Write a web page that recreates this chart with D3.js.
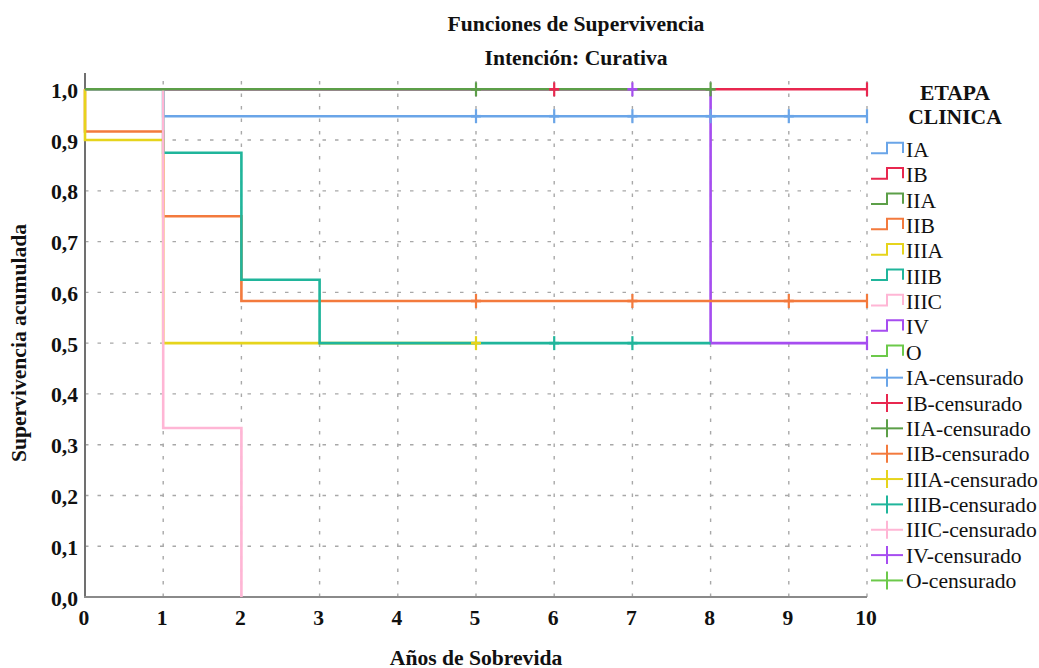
<!DOCTYPE html>
<html>
<head>
<meta charset="utf-8">
<script src="https://cdn.jsdelivr.net/npm/d3@7/dist/d3.min.js"></script>
<style>
  body { margin: 0; background: #fff; }
  svg { display: block; }
  text { font-family: "Liberation Serif", "Times New Roman", serif; fill: #111; }
</style>
</head>
<body>
<svg id="chart" width="1039" height="668"></svg>
<script>
// ---------- DATA ----------
const titleLines = ["Funciones de Supervivencia", "Intención: Curativa"];
const xTitle = "Años de Sobrevida";
const yTitle = "Supervivencia acumulada";
const legendTitle = ["ETAPA", "CLINICA"];
const xTicks = [0, 1, 2, 3, 4, 5, 6, 7, 8, 9, 10];
const yTicks = [0, 0.1, 0.2, 0.3, 0.4, 0.5, 0.6, 0.7, 0.8, 0.9, 1.0];

const categories = ["IA", "IB", "IIA", "IIB", "IIIA", "IIIB", "IIIC", "IV", "O"];
const colors = ["#6aa5e8", "#e8274f", "#5c9f48", "#f37a3d", "#e6d41c", "#20b59b", "#ffb6d5", "#a64df0", "#6cc94a"];

// event times and survival after each event (start is time 0, survival 1)
const IA_times = [1];        const IA_surv = [0.947];    const IA_end = 10; const IA_cens = [5, 6, 7, 8, 9, 10];
const IB_times = [];         const IB_surv = [];         const IB_end = 10; const IB_cens = [6, 10];
const IIA_times = [];        const IIA_surv = [];        const IIA_end = 8; const IIA_cens = [5, 8];
const IIB_times = [0, 1, 2]; const IIB_surv = [0.917, 0.75, 0.583]; const IIB_end = 10; const IIB_cens = [5, 7, 9, 10];
const IIIA_times = [0, 1];   const IIIA_surv = [0.9, 0.5]; const IIIA_end = 5; const IIIA_cens = [5];
const IIIB_times = [1, 2, 3]; const IIIB_surv = [0.875, 0.625, 0.5]; const IIIB_end = 8; const IIIB_cens = [6, 7];
const IIIC_times = [1, 2];   const IIIC_surv = [0.333, 0]; const IIIC_end = 2; const IIIC_cens = [];
const IV_times = [8];        const IV_surv = [0.5];      const IV_end = 10; const IV_cens = [7, 10];
const O_times = [];          const O_surv = [];          const O_end = null; const O_cens = [];

const seriesData = [
  {name: "IA", times: IA_times, surv: IA_surv, end: IA_end, cens: IA_cens},
  {name: "IB", times: IB_times, surv: IB_surv, end: IB_end, cens: IB_cens},
  {name: "IIA", times: IIA_times, surv: IIA_surv, end: IIA_end, cens: IIA_cens},
  {name: "IIB", times: IIB_times, surv: IIB_surv, end: IIB_end, cens: IIB_cens},
  {name: "IIIA", times: IIIA_times, surv: IIIA_surv, end: IIIA_end, cens: IIIA_cens},
  {name: "IIIB", times: IIIB_times, surv: IIIB_surv, end: IIIB_end, cens: IIIB_cens},
  {name: "IIIC", times: IIIC_times, surv: IIIC_surv, end: IIIC_end, cens: IIIC_cens},
  {name: "IV", times: IV_times, surv: IV_surv, end: IV_end, cens: IV_cens},
  {name: "O", times: O_times, surv: O_surv, end: O_end, cens: O_cens}
];
// drawing order of the lines (bottom to top)
const drawOrder = ["IB", "IV", "IA", "IIB", "IIIA", "IIIB", "IIIC", "IIA", "O"];

// ---------- CHART ----------
const FS = 20;          // font size
const STRETCH = 1.08;   // horizontal text stretch
const svg = d3.select("#chart");
const color = d3.scaleOrdinal().domain(categories).range(colors);
const x = d3.scaleLinear().domain([0, 10]).range([85, 867]);
const y = d3.scaleLinear().domain([0, 1]).range([597, 89.3]);
const yTop = y(1.032);

function stepPoints(s) {
  if (s.end === null) return [];
  const pts = [[0, 1]];
  s.times.forEach((t, i) => pts.push([t, s.surv[i]]));
  const last = pts[pts.length - 1][1];
  pts.push([s.end, last]);
  return pts;
}
function survAt(s, t) {
  let v = 1;
  s.times.forEach((tt, i) => { if (tt <= t) v = s.surv[i]; });
  return v;
}

// grid
const grid = svg.append("g");
grid.selectAll("line.hg").data(yTicks.filter(v => v > 0 && v < 1)).join("line")
  .attr("x1", x(0)).attr("x2", x(10) - 6)
  .attr("y1", d => y(d)).attr("y2", d => y(d))
  .attr("stroke", "#a8a8a8").attr("stroke-width", 1.4).attr("stroke-dasharray", "3.5,9");
grid.selectAll("line.vg").data(xTicks.filter(v => v > 0)).join("line")
  .attr("x1", d => x(d)).attr("x2", d => x(d))
  .attr("y1", y(0)).attr("y2", yTop)
  .attr("stroke", "#a8a8a8").attr("stroke-width", 1.4).attr("stroke-dasharray", "3.5,9");

// axes lines
svg.append("line").attr("x1", x(0)).attr("x2", x(0)).attr("y1", y(0) + 1).attr("y2", yTop)
  .attr("stroke", "#707070").attr("stroke-width", 2);
svg.append("line").attr("x1", x(0) - 1).attr("x2", x(10)).attr("y1", y(0)).attr("y2", y(0))
  .attr("stroke", "#8a8a8a").attr("stroke-width", 2);

// tick labels
const fmt = d3.format(".1f");
svg.append("g").selectAll("text").data(yTicks).join("text")
  .attr("x", 78).attr("y", d => y(d) + 8.5)
  .attr("text-anchor", "end").attr("font-size", FS).attr("font-weight", "bold")
  .text(d => fmt(d).replace(".", ","));
svg.append("g").selectAll("text").data(xTicks).join("text")
  .attr("x", d => x(d) - 1).attr("y", 625)
  .attr("text-anchor", "middle").attr("font-size", FS).attr("font-weight", "bold")
  .text(d => d);

// lines
const line = d3.line().x(d => x(d[0])).y(d => y(d[1])).curve(d3.curveStepAfter);
const byName = {};
seriesData.forEach(s => byName[s.name] = s);
const linesG = svg.append("g");
drawOrder.forEach(n => {
  const s = byName[n];
  const pts = stepPoints(s);
  if (!pts.length) return;
  linesG.append("path").attr("d", line(pts))
    .attr("fill", "none").attr("stroke", color(n)).attr("stroke-width", 2.6)
    .attr("stroke-linejoin", "miter");
});
// censor marks
const censG = svg.append("g");
drawOrder.forEach(n => {
  const s = byName[n];
  censG.selectAll(null).data(s.cens).join("g").each(function(t) {
    const g = d3.select(this);
    const cx = x(t), cy = y(survAt(s, t));
    g.append("line").attr("x1", cx).attr("x2", cx).attr("y1", cy - 7).attr("y2", cy + 7)
      .attr("stroke", color(n)).attr("stroke-width", 2.2);
    if (t < 10) g.append("line").attr("x1", cx - 5).attr("x2", cx + 5).attr("y1", cy).attr("y2", cy)
      .attr("stroke", color(n)).attr("stroke-width", 2.6);
  });
});

// titles
svg.append("text").attr("x", 576).attr("y", 31).attr("text-anchor", "middle")
  .attr("font-size", FS).attr("font-weight", "bold").text(titleLines[0]);
svg.append("text").attr("x", 576).attr("y", 65).attr("text-anchor", "middle")
  .attr("font-size", FS).attr("font-weight", "bold").text(titleLines[1]);
svg.append("text").attr("x", 476).attr("y", 665).attr("text-anchor", "middle")
  .attr("font-size", FS).attr("font-weight", "bold").text(xTitle);
svg.append("text").attr("transform", "translate(26,343) rotate(-90)").attr("text-anchor", "middle")
  .attr("font-size", FS).attr("font-weight", "bold").text(yTitle);

// legend
const lg = svg.append("g");
legendTitle.forEach((t, i) => lg.append("text").attr("x", 955).attr("y", 100 + i * 23.5)
  .attr("text-anchor", "middle").attr("font-size", FS).attr("font-weight", "bold").text(t));
const rowY = i => 157 + i * 25.35;
const legItems = categories.map(c => ({name: c, cens: false}))
  .concat(categories.map(c => ({name: c, cens: true})));
legItems.forEach((it, i) => {
  const b = rowY(i);
  const c = color(it.name);
  if (!it.cens) {
    lg.append("path").attr("d", `M871,${b - 3.7}H887V${b - 14.3}H903V${b - 4}`)
      .attr("fill", "none").attr("stroke", c).attr("stroke-width", 2);
  } else {
    const cy = b - 7.5;
    lg.append("line").attr("x1", 871).attr("x2", 903).attr("y1", cy).attr("y2", cy)
      .attr("stroke", c).attr("stroke-width", 2);
    lg.append("line").attr("x1", 887).attr("x2", 887).attr("y1", cy - 9).attr("y2", cy + 9)
      .attr("stroke", c).attr("stroke-width", 2);
  }
  lg.append("text").attr("x", 906).attr("y", b).attr("font-size", FS)
    .text(it.cens ? it.name + "-censurado" : it.name);
});

// horizontal stretch of all text to match the wide lettering
svg.selectAll("text").each(function() {
  const w = this.getComputedTextLength();
  this.setAttribute("textLength", (w * STRETCH).toFixed(1));
  this.setAttribute("lengthAdjust", "spacingAndGlyphs");
});
</script>
</body>
</html>
